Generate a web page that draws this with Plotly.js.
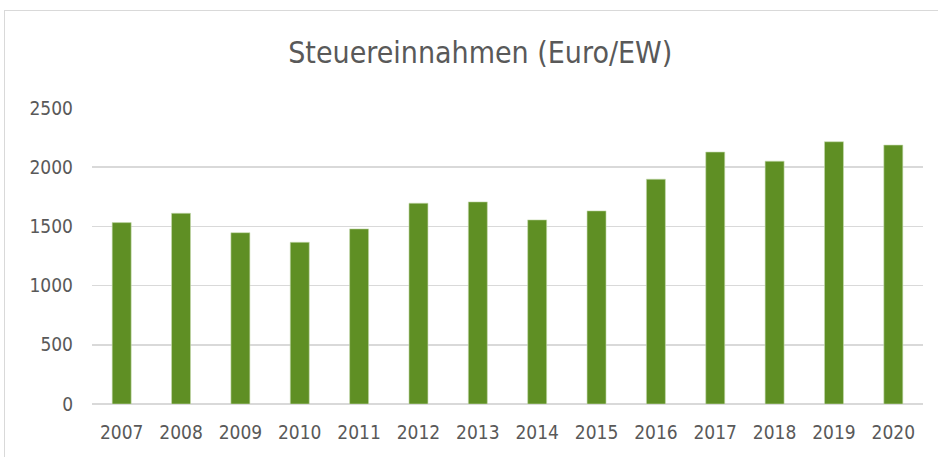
<!DOCTYPE html>
<html>
<head>
<meta charset="utf-8">
<script src="https://cdn.plot.ly/plotly-3.0.1.min.js"></script>
<style>
html,body{margin:0;padding:0;background:#fff;}
#frame{position:absolute;left:4px;top:10px;width:960px;height:480px;border:1px solid #d9d9d9;box-sizing:border-box;}
#chart{position:absolute;left:0;top:0;width:938px;height:457px;}
</style>
</head>
<body>
<div id="frame"></div>
<div id="chart"></div>
<script>
const years = ['2007','2008','2009','2010','2011','2012','2013','2014','2015','2016','2017','2018','2019','2020'];
const steuereinnahmen = [1532, 1611, 1447, 1366, 1479, 1696, 1707, 1555, 1631, 1899, 2128, 2051, 2215, 2187];
const yTicks = [0, 500, 1000, 1500, 2000, 2500];

const fontFam = '"Liberation Sans Narrow", "DejaVu Sans Condensed", Arial, sans-serif';

Plotly.newPlot('chart', [{
  type: 'bar',
  x: years,
  y: steuereinnahmen,
  marker: {color: '#5f8f24', line: {color: '#c8dcb0', width: 0.6}},
  hoverinfo: 'x+y'
}], {
  width: 938, height: 457,
  paper_bgcolor: 'rgba(0,0,0,0)',
  plot_bgcolor: 'rgba(0,0,0,0)',
  margin: {l: 92, r: 15, t: 108, b: 53},
  bargap: 0.68,
  showlegend: false,
  title: {text: 'Steuereinnahmen (Euro/EW)', x: 0.512, xanchor: 'center', y: 0.885, yanchor: 'middle',
          font: {family: fontFam, size: 30, color: '#595959'}},
  xaxis: {type: 'category', showgrid: false, zeroline: false, showline: false, ticks: '',
          ticklabelstandoff: 15,
          tickfont: {family: fontFam, size: 19, color: '#595959'}},
  yaxis: {range: [0, 2500], tickvals: yTicks, ticktext: yTicks.map(String),
          showgrid: true, gridcolor: '#d9d9d9', gridwidth: 1.5,
          zeroline: true, zerolinecolor: '#d9d9d9', zerolinewidth: 1.5,
          showline: false, ticks: '', ticklabelstandoff: 18,
          tickfont: {family: fontFam, size: 19, color: '#595959'}}
}, {displayModeBar: false, staticPlot: true});
</script>
</body>
</html>
